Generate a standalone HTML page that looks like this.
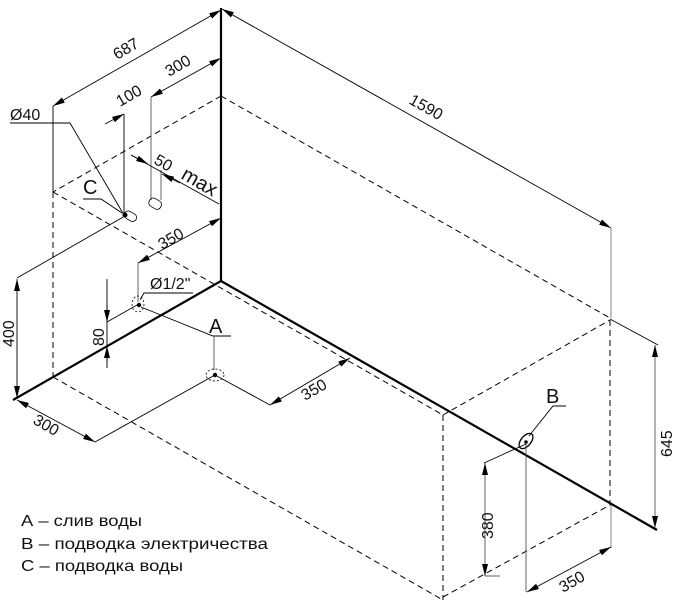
<!DOCTYPE html>
<html><head><meta charset="utf-8"><style>
html,body{margin:0;padding:0;background:#fff;width:674px;height:604px;overflow:hidden}
svg{display:block}
text{font-family:"Liberation Sans","DejaVu Sans",sans-serif;fill:#111;stroke:none}
</style></head><body>
<svg width="674" height="604" viewBox="0 0 674 604" xmlns="http://www.w3.org/2000/svg">
<defs>
<marker id="ar" viewBox="0 0 12 6" refX="12" refY="3" markerWidth="12" markerHeight="6" markerUnits="userSpaceOnUse" orient="auto-start-reverse">
<path d="M0,0 L12,3 L0,6 z" fill="#000" stroke="none"/>
</marker>
</defs>
<g fill="none" stroke="#000">
<g stroke-width="1" stroke-dasharray="6,4">
<line x1="221" y1="96" x2="610" y2="318"/>
<line x1="221" y1="96" x2="53" y2="192"/>
<line x1="53" y1="192" x2="443" y2="415"/>
<line x1="53" y1="192" x2="53" y2="377"/>
<line x1="53" y1="377" x2="443" y2="600"/>
<line x1="443" y1="415" x2="443" y2="600"/>
<line x1="443" y1="415" x2="610" y2="320"/>
<line x1="443" y1="597" x2="610" y2="505"/>
<line x1="610" y1="320" x2="610" y2="505"/>
</g>
<g stroke-width="2.2">
<line x1="221" y1="8" x2="221" y2="281"/>
<line x1="221" y1="281" x2="13" y2="400"/>
<line x1="221" y1="281" x2="657" y2="530"/>
</g>
<g stroke-width="0.9">
<line x1="222" y1="9" x2="611" y2="228" marker-start="url(#ar)" marker-end="url(#ar)"/>
<line x1="611" y1="228" x2="611" y2="318" stroke="#777"/>
<line x1="611" y1="505" x2="611" y2="548" stroke="#777"/>
<line x1="610" y1="319" x2="658" y2="345"/>
<line x1="655" y1="345" x2="655" y2="528" stroke="#555" marker-start="url(#ar)" marker-end="url(#ar)"/>
<line x1="53" y1="106" x2="221" y2="10" marker-start="url(#ar)" marker-end="url(#ar)"/>
<line x1="53" y1="106" x2="53" y2="192"/>
<line x1="151" y1="97" x2="221" y2="58" marker-start="url(#ar)" marker-end="url(#ar)"/>
<line x1="151" y1="97" x2="151" y2="200" stroke="#555"/>
<line x1="161" y1="170" x2="161" y2="200" stroke="#555"/>
<line x1="105" y1="124" x2="124" y2="114" marker-end="url(#ar)"/>
<line x1="124" y1="114" x2="124" y2="214"/>
<polyline points="10,123 70,123 124,215"/>
<polyline points="83,199 101,199 122,213"/>
<line x1="131" y1="155" x2="219" y2="204"/>
<line x1="131" y1="155" x2="148" y2="164" marker-end="url(#ar)"/>
<line x1="180" y1="183" x2="162" y2="174" marker-end="url(#ar)"/>
<rect x="149" y="199" width="13" height="9" rx="4" transform="rotate(30 155 203)" stroke-width="0.8"/>
<rect x="124" y="212" width="13" height="8" rx="4" transform="rotate(30 130 216)" stroke-width="0.8"/>
<line x1="138" y1="263" x2="221" y2="218" marker-start="url(#ar)" marker-end="url(#ar)"/>
<line x1="138" y1="263" x2="138" y2="302" stroke="#555"/>
<line x1="17" y1="278" x2="125" y2="216"/>
<line x1="17" y1="279" x2="17" y2="398" marker-start="url(#ar)" marker-end="url(#ar)"/>
<ellipse cx="138" cy="304" rx="6" ry="8" stroke-dasharray="2,2" stroke-width="0.8"/>
<polyline points="140,300 144,293 193,293"/>
<line x1="107" y1="279" x2="107" y2="368"/>
<line x1="107" y1="305" x2="107" y2="322" marker-end="url(#ar)"/>
<line x1="107" y1="362" x2="107" y2="346" marker-end="url(#ar)"/>
<line x1="107" y1="322" x2="137" y2="305"/>
<polyline points="141,307 213,336 231,336"/>
<line x1="214" y1="336" x2="214" y2="370" stroke="#555"/>
<ellipse cx="215" cy="375" rx="9" ry="6" stroke-dasharray="2,2" stroke-width="0.8"/>
<line x1="215" y1="375" x2="95" y2="442"/>
<line x1="17" y1="400" x2="95" y2="442" marker-start="url(#ar)" marker-end="url(#ar)"/>
<line x1="215" y1="375" x2="270" y2="405"/>
<line x1="270" y1="405" x2="350" y2="358" marker-start="url(#ar)" marker-end="url(#ar)"/>
<ellipse cx="526" cy="441" rx="5" ry="9" transform="rotate(40 526 441)" stroke-width="1.3"/>
<polyline points="529,436 553,406 566,406"/>
<line x1="526" y1="444" x2="526" y2="592" stroke="#555"/>
<line x1="527" y1="592" x2="611" y2="547" marker-start="url(#ar)" marker-end="url(#ar)"/>
<line x1="526" y1="444" x2="484" y2="463"/>
<line x1="485" y1="463" x2="485" y2="576" stroke="#555" marker-start="url(#ar)" marker-end="url(#ar)"/>
<line x1="485" y1="576" x2="500" y2="576" stroke="#555"/>
</g>
</g>
<circle cx="125" cy="215" r="2.5" fill="#000"/>
<circle cx="139" cy="305" r="2.2" fill="#000"/>
<circle cx="215" cy="375" r="2.2" fill="#000"/>
<circle cx="526" cy="442" r="1.8" fill="#000"/>
<g font-size="16">
<text transform="translate(408,103) rotate(29.5)">1590</text>
<text transform="translate(117,60) rotate(-30)">687</text>
<text transform="translate(169,77) rotate(-30)">300</text>
<text transform="translate(120,107) rotate(-30)">100</text>
<text x="10" y="120">Ø40</text>
<text x="83" y="194" font-size="20">C</text>
<text transform="translate(153,163) rotate(30)">50</text>
<text transform="translate(180,178) rotate(30)" font-size="20">max</text>
<text transform="translate(162,250) rotate(-30)">350</text>
<text x="150" y="289">Ø1/2"</text>
<text transform="translate(14,347) rotate(-90)">400</text>
<text transform="translate(104,346) rotate(-90)">80</text>
<text x="209" y="333" font-size="20">A</text>
<text transform="translate(32,423) rotate(30)">300</text>
<text transform="translate(305,401) rotate(-30)">350</text>
<text x="546" y="403" font-size="20">B</text>
<text transform="translate(493,539) rotate(-90)">380</text>
<text transform="translate(672,457) rotate(-90)">645</text>
<text transform="translate(563,593) rotate(-30)">350</text>
</g>
<g font-size="16">
<text x="21" y="526" textLength="121" lengthAdjust="spacingAndGlyphs">А – слив воды</text>
<text x="21" y="549" textLength="247" lengthAdjust="spacingAndGlyphs">В – подводка электричества</text>
<text x="21" y="571" textLength="162" lengthAdjust="spacingAndGlyphs">С – подводка воды</text>
</g>
</svg>
</body></html>
